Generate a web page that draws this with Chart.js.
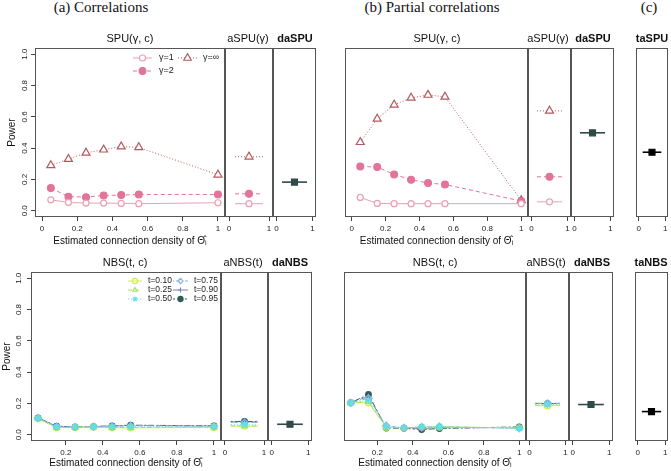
<!DOCTYPE html>
<html>
<head>
<meta charset="utf-8">
<script src="https://cdn.jsdelivr.net/npm/chart.js@4.4.1/dist/chart.umd.min.js"></script>
<style>
  body { margin: 0; background: #fff; }
  #lienzo { position: relative; width: 671px; height: 471px; overflow: hidden; font-family: 'Liberation Sans', Arial, sans-serif; }
  canvas { position: absolute; }
  .titulo { position: absolute; width: 200px; text-align: center; white-space: nowrap; color: #111; z-index: 5; }
  .serif { font-family: 'Liberation Serif', serif; font-size: 15px; line-height: 16px; }
  .sub { font-size: 11px; line-height: 13px; }
  .neg { font-weight: bold; }
</style>
</head>
<body>
<div id="lienzo"></div>
<script>
// eje x: densidad de conexión estimada
const densidades = [0.05, 0.15, 0.25, 0.35, 0.45, 0.55, 1];
const ticksDensidad = [0, 0.2, 0.4, 0.6, 0.8, 1];
const ticksDensidadNBS = [0.2, 0.4, 0.6, 0.8, 1];
const ticksUnidad = [0, 1];
const ticksPotencia = [0, 0.2, 0.4, 0.6, 0.8, 1];
const posSegmento = [0.15, 0.5, 0.85];

// (a) correlaciones - SPU(γ, c)
const spuA_g1 = [0.070, 0.053, 0.049, 0.049, 0.047, 0.045, 0.051];
const spuA_g2 = [0.145, 0.090, 0.087, 0.098, 0.100, 0.104, 0.104];
const spuA_gInf = [0.290, 0.330, 0.370, 0.390, 0.410, 0.405, 0.230];
const aspuA = [0.045, 0.108, 0.345];   // γ=1, γ=2, γ=∞
const daspuA = 0.183;

// (b) correlaciones parciales - SPU(γ, c)
const spuB_g1 = [0.085, 0.047, 0.045, 0.045, 0.045, 0.045, 0.045];
const spuB_g2 = [0.283, 0.279, 0.232, 0.198, 0.177, 0.168, 0.062];
const spuB_gInf = [0.438, 0.587, 0.677, 0.721, 0.740, 0.728, 0.066];
const aspuB = [0.057, 0.217, 0.638];
const daspuB = 0.498;
// (c)
const taspu = 0.374;

// (a) NBS(t, c)
const nbsA_t10 = [0.103, 0.045, 0.047, 0.049, 0.045, 0.044, 0.047];
const nbsA_t25 = [0.104, 0.047, 0.047, 0.050, 0.046, 0.046, 0.049];
const nbsA_t50 = [0.105, 0.049, 0.048, 0.050, 0.049, 0.050, 0.052];
const nbsA_t75 = [0.106, 0.052, 0.048, 0.051, 0.054, 0.057, 0.055];
const nbsA_t90 = [0.107, 0.054, 0.049, 0.052, 0.056, 0.059, 0.056];
const nbsA_t95 = [0.108, 0.055, 0.050, 0.052, 0.057, 0.061, 0.057];
const anbsA = [0.055, 0.057, 0.065, 0.078, 0.081, 0.085];
const danbsA = 0.067;

// (b) NBS(t, c)
const nbsB_t10 = [0.203, 0.205, 0.048, 0.043, 0.049, 0.050, 0.044];
const nbsB_t25 = [0.203, 0.212, 0.050, 0.043, 0.050, 0.051, 0.042];
const nbsB_t50 = [0.204, 0.218, 0.052, 0.044, 0.052, 0.053, 0.039];
const nbsB_t75 = [0.204, 0.233, 0.058, 0.044, 0.047, 0.050, 0.042];
const nbsB_t90 = [0.205, 0.245, 0.050, 0.042, 0.040, 0.045, 0.046];
const nbsB_t95 = [0.205, 0.257, 0.043, 0.041, 0.033, 0.040, 0.050];
const anbsB = [0.186, 0.190, 0.196, 0.200, 0.201, 0.199];
const danbsB = 0.193;
const tanbs = 0.148;

// estilos de las series
const estilosSPU = [
  { label: 'γ=1', color: '#E9A1B3', dash: [], punto: 'circle', relleno: '#fff', radio: 3, orden: 0 },
  { label: 'γ=2', color: '#E2739A', dash: [4, 3], punto: 'circle', relleno: '#E2739A', radio: 3.4, orden: 1 },
  { label: 'γ=∞', color: '#B35A5E', dash: [1, 2], punto: 'triangle', relleno: '#fff', radio: 4.6, orden: 2 }
];
// orden: menor = dibujado encima
const estilosNBS = [
  { label: 't=0.10', color: '#D4EE3C', dash: [], punto: 'circle', relleno: 'rgba(0,0,0,0)', radio: 3, orden: 3 },
  { label: 't=0.25', color: '#A6E35E', dash: [4, 3], punto: 'triangle', relleno: 'rgba(0,0,0,0)', radio: 3.5, orden: 2 },
  { label: 't=0.50', color: '#5FE0EC', dash: [1, 2], punto: 'star', relleno: 'rgba(0,0,0,0)', radio: 3.6, orden: 0 },
  { label: 't=0.75', color: '#86B3E3', dash: [1, 2, 4, 2], punto: 'rectRot', relleno: 'rgba(0,0,0,0)', radio: 3.5, orden: 1 },
  { label: 't=0.90', color: '#7A84B5', dash: [7, 3], punto: 'cross', relleno: 'rgba(0,0,0,0)', radio: 3, orden: 4 },
  { label: 't=0.95', color: '#2E5B58', dash: [2, 2, 6, 2], punto: 'circle', relleno: '#2E5B58', radio: 2.8, orden: 5 }
];
const estiloDa = { color: '#2F4A48', dash: [], punto: 'rect', relleno: '#2F4A48', radio: 4.2, orden: 0 };
const estiloTa = { color: '#000', dash: [], punto: 'rect', relleno: '#000', radio: 4.2, orden: 0 };

const fuente = "'Liberation Sans', Arial, sans-serif";
Chart.defaults.font.family = fuente;
const tituloX = 'Estimated connection density of Θ̂ᵢ';

function serieLinea(valores, est, grosor) {
  return {
    data: densidades.map((x, i) => ({ x: x, y: valores[i] })),
    showLine: true,
    order: est.orden,
    borderColor: est.color,
    borderWidth: grosor || 1,
    borderDash: est.dash,
    pointStyle: est.punto,
    pointRadius: est.radio,
    pointBorderColor: est.color,
    pointBackgroundColor: est.relleno,
    pointBorderWidth: 1.2,
    clip: false
  };
}

function serieSegmento(valor, est, grosor) {
  return {
    data: posSegmento.map(x => ({ x: x, y: valor })),
    showLine: true,
    order: est.orden,
    borderColor: est.color,
    borderWidth: grosor || 1,
    borderDash: est.dash,
    pointStyle: est.punto,
    pointRadius: posSegmento.map((x, i) => (i === 1 ? est.radio : 0)),
    pointBorderColor: est.color,
    pointBackgroundColor: est.relleno,
    pointBorderWidth: 1.2,
    clip: false
  };
}

// dibuja el marco de cada panel (como box() en R)
const pluginCaja = {
  id: 'caja',
  afterDatasetsDraw(chart) {
    const a = chart.chartArea;
    const ctx = chart.ctx;
    ctx.save();
    ctx.strokeStyle = '#555';
    ctx.lineWidth = 1;
    ctx.strokeRect(Math.round(a.left) + 0.5, Math.round(a.top) + 0.5,
      Math.round(a.right - a.left) - 1, Math.round(a.bottom - a.top) - 1);
    ctx.restore();
  }
};

// leyenda estilo R, por columnas
function crearLeyenda(items, offX, offY, tam) {
  return {
    id: 'leyendaR',
    afterDatasetsDraw(chart) {
      const ctx = chart.ctx;
      ctx.save();
      items.forEach(it => {
        const est = it.estilo;
        const y = it.y - offY;
        ctx.strokeStyle = est.color;
        ctx.lineWidth = 1;
        ctx.setLineDash(est.dash);
        ctx.beginPath();
        ctx.moveTo(it.x0 - offX, y);
        ctx.lineTo(it.x1 - offX, y);
        ctx.stroke();
        ctx.setLineDash([]);
        ctx.fillStyle = est.relleno;
        ctx.lineWidth = 1.1;
        Chart.helpers.drawPoint(ctx, { pointStyle: est.punto, radius: it.radio, rotation: 0, borderWidth: 1.1 },
          (it.x0 + it.x1) / 2 - offX, y);
        ctx.fillStyle = '#222';
        ctx.font = tam + 'px ' + fuente;
        ctx.textBaseline = 'middle';
        ctx.textAlign = 'left';
        ctx.fillText(est.label, it.xt - offX, y);
      });
      ctx.restore();
    }
  };
}

function crearPanel(p) {
  const padT = 10, padR = 6, padB = 0;
  const padL = p.ejeY ? 0 : 6;
  const anchoY = p.ejeY ? p.caja[0] : 0;
  const izq = p.caja[0] - padL - anchoY;
  const arriba = p.caja[1] - padT;
  const ancho = p.caja[2] - p.caja[0] + padL + padR + anchoY;
  const alto = p.caja[3] - p.caja[1] + padT + padB + p.altoX;

  const canvas = document.createElement('canvas');
  canvas.width = ancho;
  canvas.height = alto;
  canvas.style.left = izq + 'px';
  canvas.style.top = arriba + 'px';
  canvas.style.width = ancho + 'px';
  canvas.style.height = alto + 'px';
  document.getElementById('lienzo').appendChild(canvas);

  const extras = [pluginCaja];
  if (p.leyenda) extras.push(crearLeyenda(p.leyenda.items, izq, arriba, p.leyenda.tam));

  return new Chart(canvas.getContext('2d'), {
    type: 'scatter',
    data: { datasets: p.datasets },
    options: {
      responsive: false,
      animation: false,
      devicePixelRatio: 1,
      layout: { padding: { top: padT, right: padR, bottom: padB, left: padL } },
      plugins: { legend: { display: false }, tooltip: { enabled: false } },
      scales: {
        x: {
          type: 'linear', min: p.xMin, max: p.xMax, bounds: 'data',
          afterBuildTicks: s => { s.ticks = p.xTicks.map(v => ({ value: v })); },
          afterFit: s => { s.height = p.altoX; },
          grid: { display: true, drawOnChartArea: false, drawTicks: true, tickLength: 4, color: '#444' },
          border: { display: false },
          ticks: { padding: 3, maxRotation: 0, minRotation: 0, autoSkip: false, color: '#222',
            font: { size: 8 }, callback: v => String(v) },
          title: { display: !!p.tituloX, text: tituloX, color: '#111', font: { size: 10 },
            padding: { top: 0, bottom: p.padTituloX || 1.4 } }
        },
        y: {
          type: 'linear', min: -0.04, max: 1.04, bounds: 'data', display: !!p.ejeY,
          afterBuildTicks: s => { s.ticks = ticksPotencia.map(v => ({ value: v })); },
          afterFit: s => { s.width = anchoY; },
          grid: { display: true, drawOnChartArea: false, drawTicks: true, tickLength: 4, color: '#444' },
          border: { display: false },
          ticks: { padding: p.padTickY || 0.5, minRotation: 90, maxRotation: 90, crossAlign: 'center',
            autoSkip: false, color: '#222', font: { size: 8 }, callback: v => v.toFixed(1) },
          title: { display: !!p.ejeY, text: 'Power', color: '#111', font: { size: 10 },
            padding: { top: p.padTituloY || 6, bottom: 0 } }
        }
      }
    },
    plugins: extras
  });
}

// ---------- fila superior: SPU ----------
const filaSup = [48, 217];
crearPanel({
  caja: [35, filaSup[0], 225, filaSup[1]], ejeY: true, padTickY: 0.5, padTituloY: 6,
  xMin: -0.04, xMax: 1.04, xTicks: ticksDensidad, altoX: 32, tituloX: true,
  datasets: [
    serieLinea(spuA_g1, estilosSPU[0]),
    serieLinea(spuA_g2, estilosSPU[1]),
    serieLinea(spuA_gInf, estilosSPU[2])
  ],
  leyenda: { tam: 9, items: [
    { estilo: estilosSPU[0], x0: 133, x1: 152, xt: 159, y: 58, radio: 3 },
    { estilo: estilosSPU[1], x0: 133, x1: 152, xt: 159, y: 71, radio: 3.4 },
    { estilo: estilosSPU[2], x0: 178, x1: 197, xt: 203, y: 58, radio: 4.4 }
  ] }
});
crearPanel({
  caja: [225, filaSup[0], 273, filaSup[1]], xMin: -0.1, xMax: 1.1, xTicks: ticksUnidad, altoX: 32,
  datasets: aspuA.map((v, i) => serieSegmento(v, estilosSPU[i]))
});
crearPanel({
  caja: [273, filaSup[0], 316, filaSup[1]], xMin: -0.1, xMax: 1.1, xTicks: ticksUnidad, altoX: 32,
  datasets: [serieSegmento(daspuA, estiloDa, 1.6)]
});
crearPanel({
  caja: [345, filaSup[0], 528, filaSup[1]], xMin: -0.04, xMax: 1.04, xTicks: ticksDensidad, altoX: 32, tituloX: true,
  datasets: [
    serieLinea(spuB_g1, estilosSPU[0]),
    serieLinea(spuB_g2, estilosSPU[1]),
    serieLinea(spuB_gInf, estilosSPU[2])
  ]
});
crearPanel({
  caja: [528, filaSup[0], 571, filaSup[1]], xMin: -0.1, xMax: 1.1, xTicks: ticksUnidad, altoX: 32,
  datasets: aspuB.map((v, i) => serieSegmento(v, estilosSPU[i]))
});
crearPanel({
  caja: [571, filaSup[0], 614, filaSup[1]], xMin: -0.1, xMax: 1.1, xTicks: ticksUnidad, altoX: 32,
  datasets: [serieSegmento(daspuB, estiloDa, 1.6)]
});
crearPanel({
  caja: [636, filaSup[0], 668, filaSup[1]], xMin: -0.1, xMax: 1.1, xTicks: ticksUnidad, altoX: 32,
  datasets: [serieSegmento(taspu, estiloTa, 1.6)]
});

// ---------- fila inferior: NBS ----------
const filaInf = [272, 441];
const seriesNbsA = [nbsA_t10, nbsA_t25, nbsA_t50, nbsA_t75, nbsA_t90, nbsA_t95];
const seriesNbsB = [nbsB_t10, nbsB_t25, nbsB_t50, nbsB_t75, nbsB_t90, nbsB_t95];
const colLey = [{ x0: 128, x1: 142, xt: 148 }, { x0: 173, x1: 188, xt: 194 }];
const filasLey = [281, 290, 299];

crearPanel({
  caja: [31, filaInf[0], 221, filaInf[1]], ejeY: true, padTickY: 3, padTituloY: 1.5,
  xMin: 0.012, xMax: 1.038, xTicks: ticksDensidadNBS, altoX: 30, tituloX: true,
  datasets: seriesNbsA.map((s, i) => serieLinea(s, estilosNBS[i])),
  leyenda: { tam: 8.5, items: estilosNBS.map((e, i) => Object.assign({ estilo: e, y: filasLey[i % 3], radio: 2.6 }, colLey[Math.floor(i / 3)])) }
});
crearPanel({
  caja: [221, filaInf[0], 268, filaInf[1]], xMin: -0.1, xMax: 1.1, xTicks: ticksUnidad, altoX: 30,
  datasets: anbsA.map((v, i) => serieSegmento(v, estilosNBS[i]))
});
crearPanel({
  caja: [268, filaInf[0], 312, filaInf[1]], xMin: -0.1, xMax: 1.1, xTicks: ticksUnidad, altoX: 30,
  datasets: [serieSegmento(danbsA, estiloDa, 1.6)]
});
crearPanel({
  caja: [344, filaInf[0], 526, filaInf[1]], xMin: 0.012, xMax: 1.038, xTicks: ticksDensidadNBS, altoX: 30, tituloX: true,
  datasets: seriesNbsB.map((s, i) => serieLinea(s, estilosNBS[i]))
});
crearPanel({
  caja: [526, filaInf[0], 569, filaInf[1]], xMin: -0.1, xMax: 1.1, xTicks: ticksUnidad, altoX: 30,
  datasets: anbsB.map((v, i) => serieSegmento(v, estilosNBS[i]))
});
crearPanel({
  caja: [569, filaInf[0], 613, filaInf[1]], xMin: -0.1, xMax: 1.1, xTicks: ticksUnidad, altoX: 30,
  datasets: [serieSegmento(danbsB, estiloDa, 1.6)]
});
crearPanel({
  caja: [635, filaInf[0], 668, filaInf[1]], xMin: -0.1, xMax: 1.1, xTicks: ticksUnidad, altoX: 30,
  datasets: [serieSegmento(tanbs, estiloTa, 1.6)]
});

// ---------- títulos ----------
const titulos = [
  ['(a) Correlations', 101, 7, 'serif'],
  ['(b) Partial correlations', 432, 7, 'serif'],
  ['(c)', 649, 7, 'serif'],
  ['SPU(γ, c)', 130, 38.5, 'sub'], ['aSPU(γ)', 248, 38.5, 'sub'], ['daSPU', 295, 38.5, 'sub neg'],
  ['SPU(γ, c)', 437, 38.5, 'sub'], ['aSPU(γ)', 548, 38.5, 'sub'], ['daSPU', 593, 38.5, 'sub neg'],
  ['taSPU', 652, 38.5, 'sub neg'],
  ['NBS(t, c)', 125, 262.5, 'sub'], ['aNBS(t)', 243, 262.5, 'sub'], ['daNBS', 290, 262.5, 'sub neg'],
  ['NBS(t, c)', 435, 262.5, 'sub'], ['aNBS(t)', 546, 262.5, 'sub'], ['daNBS', 592, 262.5, 'sub neg'],
  ['taNBS', 651, 262.5, 'sub neg']
];
titulos.forEach(t => {
  const d = document.createElement('div');
  d.className = 'titulo ' + t[3];
  d.textContent = t[0];
  const alto = t[3] === 'serif' ? 16 : 13;
  d.style.left = (t[1] - 100) + 'px';
  d.style.top = (t[2] - alto / 2) + 'px';
  document.getElementById('lienzo').appendChild(d);
});
</script>
</body>
</html>
